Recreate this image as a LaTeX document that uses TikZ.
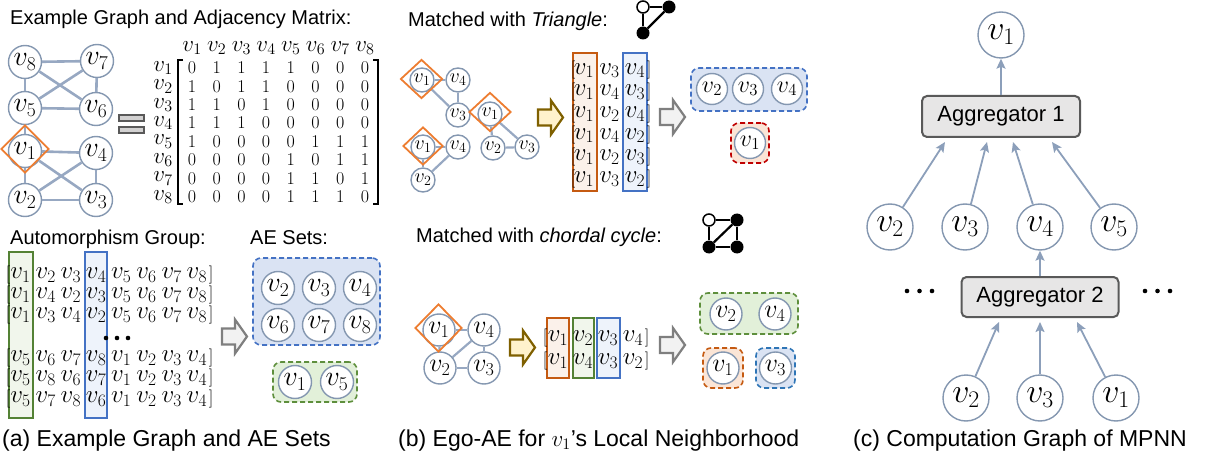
\documentclass[tikz,border=0pt]{standalone}
\usepackage{fix-cm}
\usepackage[no-math]{fontspec}
\setmainfont{Liberation Sans}
\usetikzlibrary{arrows.meta,shapes.geometric}

\definecolor{nodeline}{HTML}{8497B0}
\definecolor{edgeline}{HTML}{97A8C2}
\definecolor{flowc}{HTML}{8C9FBA}
\definecolor{diamondc}{HTML}{ED7D31}
\definecolor{colorange}{HTML}{C55A11}
\definecolor{fillorange}{HTML}{FBF1EA}
\definecolor{colblue}{HTML}{4472C4}
\definecolor{fillblue}{HTML}{EEF3FB}
\definecolor{colgreen}{HTML}{548235}
\definecolor{fillgreen}{HTML}{F1F6EC}
\definecolor{setbluefill}{HTML}{DAE3F3}
\definecolor{setgreenfill}{HTML}{E2F0D9}
\definecolor{setorangefill}{HTML}{FBE5D6}
\definecolor{dashgreen}{HTML}{5E8F3C}
\definecolor{dashred}{HTML}{C00000}
\definecolor{dashblue}{HTML}{2E75B6}
\definecolor{arrowyellow}{HTML}{FFF2CC}
\definecolor{arrowolive}{HTML}{7F6000}
\definecolor{arrowgray}{HTML}{F2F2F2}
\definecolor{arrowgrayline}{HTML}{7F7F7F}
\definecolor{aggfill}{HTML}{E7E6E6}
\definecolor{aggline}{HTML}{595959}

% a row of vertex labels: prefix, y, first x, step, list macro of indices, style
\newcommand{\vrow}[6]{%
  \foreach \v [count=\c] in #5 {%
    \node[#6] (#1-\c) at ({#3+#4*(\c-1)},#2) {$v_{\v}$};}}

% a right-pointing block arrow centred at (#2,#3)
\newcommand{\blockarrow}[3]{%
  \draw[#1] ({#2-12.5},{#3-8}) -- ({#2+0.5},{#3-8}) -- ({#2+0.5},{#3-17})
    -- ({#2+12.5},#3) -- ({#2+0.5},{#3+17}) -- ({#2+0.5},{#3+8})
    -- ({#2-12.5},{#3+8}) -- cycle;}

\begin{document}
\begin{tikzpicture}[x=1pt,y=-1pt,
  vtx/.style={circle, draw=nodeline, line width=1.4pt, fill=white, inner sep=0pt},
  gbig/.style={vtx, minimum size=33pt, font=\fontsize{28}{28}\selectfont},
  gsmall/.style={vtx, minimum size=24pt, font=\fontsize{20}{20}\selectfont},
  gmid/.style={vtx, minimum size=32pt, font=\fontsize{26}{26}\selectfont},
  gset/.style={vtx, minimum size=31pt, font=\fontsize{24}{24}\selectfont},
  gmp/.style={vtx, minimum size=46pt, font=\fontsize{34}{34}\selectfont},
  gedge/.style={draw=edgeline, line width=2.6pt},
  sedge/.style={draw=edgeline, line width=2.2pt},
  hilite/.style={diamond, draw=diamondc, line width=1.8pt, inner sep=0pt},
  hdr/.style={inner sep=0pt, font=\fontsize{23}{23}\selectfont},
  digit/.style={inner sep=0pt, font=\fontsize{18}{18}\selectfont},
  entry/.style={inner sep=0pt, font=\fontsize{25}{25}\selectfont},
  brk/.style={inner sep=0pt, font=\fontsize{18}{18}\selectfont},
  bracket/.style={line width=1.2pt},
  title/.style={anchor=base west, inner sep=0pt, font=\fontsize{20}{24}\selectfont},
  caption/.style={anchor=base west, inner sep=0pt, font=\fontsize{23}{27}\selectfont},
  eqbar/.style={rectangle, draw=aggline, fill=aggfill!80!gray, line width=1.2pt, inner sep=0pt, minimum width=25pt, minimum height=6pt},
  orangecol/.style={draw=colorange, fill=fillorange, line width=1.8pt},
  bluecol/.style={draw=colblue, fill=fillblue, line width=1.8pt},
  greencol/.style={draw=colgreen, fill=fillgreen, line width=1.8pt},
  aeset/.style={rectangle, rounded corners=8pt, dash pattern=on 5pt off 3pt, line width=1.6pt, inner sep=0pt},
  aeblue/.style={aeset, draw=colblue, fill=setbluefill},
  aegreen/.style={aeset, draw=dashgreen, fill=setgreenfill},
  aered/.style={aeset, draw=dashred, fill=setorangefill},
  aeorange/.style={aeset, draw=colorange, fill=setorangefill},
  aesmallblue/.style={aeset, draw=dashblue, fill=setbluefill},
  yellowarrow/.style={draw=arrowolive, fill=arrowyellow, line width=2.2pt, line join=miter},
  grayarrow/.style={draw=arrowgrayline, fill=arrowgray, line width=2.2pt, line join=miter},
  openv/.style={circle, draw=black, fill=white, line width=1.5pt, minimum size=12pt, inner sep=0pt},
  fullv/.style={circle, fill=black, minimum size=13pt, inner sep=0pt},
  iconedge/.style={line width=2.2pt},
  dot/.style={circle, fill=black, minimum size=4.6pt, inner sep=0pt},
  agg/.style={rectangle, rounded corners=5pt, draw=aggline, fill=aggfill, line width=2pt, font=\fontsize{22}{26}\selectfont},
  flow/.style={draw=flowc, line width=1.8pt, -{Stealth[length=10pt,width=9pt,inset=2pt]}}
]
\useasboundingbox (0,0) rectangle (1226,457);

% ================= (a) example graph and adjacency matrix =================
\node[title] (ttlgraph) at (10,25) {Example Graph and Adjacency Matrix:};
\node[gbig] (g8) at (25,62) {$v_8$};
\node[gbig] (g7) at (97,61) {$v_7$};
\node[gbig] (g5) at (25,108) {$v_5$};
\node[gbig] (g6) at (96,109) {$v_6$};
\node[gbig] (g1) at (25,151) {$v_1$};
\node[gbig] (g4) at (96,153) {$v_4$};
\node[gbig] (g2) at (25,200) {$v_2$};
\node[gbig] (g3) at (96,200) {$v_3$};
\foreach \a/\b in {8/7,8/5,8/6,7/5,7/6,5/6,5/1,1/4,1/3,1/2,2/4,2/3,4/3}
  \draw[gedge] (g\a) -- (g\b);
\node[hilite, minimum width=48pt, minimum height=48pt] (dgA) at (25,149) {};

\node[eqbar] (eqtop) at (131.5,118) {};
\node[eqbar] (eqbot) at (131.5,130) {};

\foreach \c in {1,...,8} {
  \node[hdr] (colh\c) at ({192+24.7*(\c-1)},48) {$v_{\c}$};
  \node[hdr] (rowh\c) at (163,{68+18.4*(\c-1)}) {$v_{\c}$};
}
\foreach \row [count=\r] in {{0,1,1,1,1,0,0,0},{1,0,1,1,0,0,0,0},{1,1,0,1,0,0,0,0},{1,1,1,0,0,0,0,0},
                            {1,0,0,0,0,1,1,1},{0,0,0,0,1,0,1,1},{0,0,0,0,1,1,0,1},{0,0,0,0,1,1,1,0}} {
  \foreach \val [count=\c] in \row {
    \node[digit] (adj\r-\c) at ({192+24.7*(\c-1)},{68+18.4*(\r-1)}) {$\val$};
  }
}
\draw[bracket] (183,60) -- (178,60) -- (178,204) -- (183,204);
\draw[bracket] (373,60) -- (378,60) -- (378,204) -- (373,204);

% ================= (a) automorphism group and AE sets =================
\node[title] (ttlauto) at (10,244) {Automorphism Group:};
\node[title] (ttlae) at (250,244) {AE Sets:};
\draw[greencol] (9,252) rectangle (33,418);
\draw[bluecol] (85,252) rectangle (107,418);
\foreach \lst/\yy [count=\r] in {{1,2,3,4,5,6,7,8}/275,{1,4,2,3,5,6,7,8}/295,{1,3,4,2,5,6,7,8}/315,
                                  {5,6,7,8,1,2,3,4}/358,{5,8,6,7,1,2,3,4}/378,{5,7,8,6,1,2,3,4}/399} {
  \node[brk] (pl\r) at (8,\yy) {$\mathbf{[}$};
  \vrow{perm\r}{\yy}{20.5}{25.2}{\lst}{entry}
  \node[brk] (pr\r) at (211,\yy) {$]$};
}
\node[dot] (pdot1) at (106,338) {};
\node[dot] (pdot2) at (117,338) {};
\node[dot] (pdot3) at (128,338) {};

\blockarrow{grayarrow}{234.5}{336.5}

\node[aeblue, minimum width=127pt, minimum height=87pt] (aeA) at (316.5,301.5) {};
\node[gbig] (aeA2) at (278,288) {$v_2$};
\node[gbig] (aeA3) at (319,288) {$v_3$};
\node[gbig] (aeA4) at (360,288) {$v_4$};
\node[gbig] (aeA6) at (278,325) {$v_6$};
\node[gbig] (aeA7) at (319,325) {$v_7$};
\node[gbig] (aeA8) at (360,325) {$v_8$};
\node[aegreen, minimum width=84pt, minimum height=40pt] (aeB) at (315,382) {};
\node[gbig] (aeB1) at (295,382) {$v_1$};
\node[gbig] (aeB5) at (337,382) {$v_5$};

% ================= (b) matched with triangle =================
\node[title] (ttltri) at (408,27) {Matched with \textit{Triangle}:};
\node[openv] (ti1) at (643,7) {};
\node[fullv] (ti2) at (669,7) {};
\node[fullv] (ti3) at (643,33) {};
\draw[iconedge] (ti1) -- (ti2);
\draw[iconedge] (ti1) -- (ti3);
\draw[iconedge] (ti2) -- (ti3);

% three triangles around v1
\node[gsmall] (ta1) at (422,80) {$v_1$};
\node[gsmall] (ta4) at (458,80) {$v_4$};
\node[gsmall] (ta3) at (458,115) {$v_3$};
\draw[sedge] (ta1) -- (ta4);
\draw[sedge] (ta1) -- (ta3);
\draw[sedge] (ta4) -- (ta3);
\node[hilite, minimum width=42pt, minimum height=39pt] (dgT1) at (421.5,79) {};

\node[gsmall] (tb1) at (490,114) {$v_1$};
\node[gsmall] (tb2) at (493,148) {$v_2$};
\node[gsmall] (tb3) at (527,147) {$v_3$};
\draw[sedge] (tb1) -- (tb2);
\draw[sedge] (tb1) -- (tb3);
\draw[sedge] (tb2) -- (tb3);
\node[hilite, minimum width=42pt, minimum height=39pt] (dgT2) at (490,112) {};

\node[gsmall] (tc1) at (423,147) {$v_1$};
\node[gsmall] (tc4) at (458,147) {$v_4$};
\node[gsmall] (tc2) at (423,180) {$v_2$};
\draw[sedge] (tc1) -- (tc4);
\draw[sedge] (tc1) -- (tc2);
\draw[sedge] (tc2) -- (tc4);
\node[hilite, minimum width=40pt, minimum height=38pt] (dgT3) at (423,146) {};

\blockarrow{yellowarrow}{550.5}{117.5}

\draw[orangecol] (573,53) rectangle (597,191);
\draw[bluecol] (623,53) rectangle (647,191);
\foreach \lst/\yy [count=\r] in {{1,3,4}/70.5,{1,4,3}/92,{1,2,4}/114,{1,4,2}/135.5,{1,2,3}/157,{1,3,2}/179} {
  \node[brk] (tl\r) at (573,\yy) {$\mathbf{[}$};
  \vrow{tri\r}{\yy}{584}{25.5}{\lst}{entry}
  \node[brk] (tr\r) at (649,\yy) {$]$};
}

\blockarrow{grayarrow}{672.5}{117}

\node[aeblue, minimum width=116pt, minimum height=43pt] (aeT) at (749,89.5) {};
\node[gset] (aeT2) at (712,89) {$v_2$};
\node[gset] (aeT3) at (748,89) {$v_3$};
\node[gset] (aeT4) at (787,89) {$v_4$};
\node[aered, minimum width=38pt, minimum height=40pt] (aeTr) at (750,143) {};
\node[gset] (aeT1) at (750,143) {$v_1$};

% ================= (b) matched with chordal cycle =================
\node[title] (ttlcc) at (416,242) {Matched with \textit{chordal cycle}:};
\node[openv] (ci1) at (709,220) {};
\node[fullv] (ci2) at (737,220) {};
\node[fullv] (ci3) at (709,247) {};
\node[fullv] (ci4) at (737,247) {};
\draw[iconedge] (ci1) -- (ci2);
\draw[iconedge] (ci1) -- (ci3);
\draw[iconedge] (ci2) -- (ci4);
\draw[iconedge] (ci3) -- (ci4);
\draw[iconedge] (ci3) -- (ci2);

\node[gmid] (cc1) at (439,330) {$v_1$};
\node[gmid] (cc4) at (484,330) {$v_4$};
\node[gmid] (cc2) at (440,368) {$v_2$};
\node[gmid] (cc3) at (484,368) {$v_3$};
\draw[sedge] (cc1) -- (cc4);
\draw[sedge] (cc1) -- (cc2);
\draw[sedge] (cc2) -- (cc4);
\draw[sedge] (cc2) -- (cc3);
\draw[sedge] (cc4) -- (cc3);
\node[hilite, minimum width=47pt, minimum height=48pt] (dgC) at (438.5,328) {};

\blockarrow{yellowarrow}{522.5}{347.5}

\draw[orangecol] (547,318) rectangle (569,378);
\draw[greencol] (573,318) rectangle (594,378);
\draw[bluecol] (597,318) rectangle (620,378);
\foreach \lst/\yy [count=\r] in {{1,2,3,4}/338,{1,4,3,2}/361} {
  \node[brk] (cl\r) at (545,\yy) {$\mathbf{[}$};
  \vrow{chd\r}{\yy}{558}{25}{\lst}{entry}
  \node[brk] (cr\r) at (647,\yy) {$]$};
}

\blockarrow{grayarrow}{672.5}{345}

\node[aegreen, minimum width=98pt, minimum height=41pt] (aeC) at (749,313.5) {};
\node[gmid] (aeC2) at (726,314) {$v_2$};
\node[gmid] (aeC4) at (775,314) {$v_4$};
\node[aeorange, minimum width=40pt, minimum height=40pt] (aeCo) at (723,368) {};
\node[gmid] (aeC1) at (723,368) {$v_1$};
\node[aesmallblue, minimum width=39pt, minimum height=40pt] (aeCb) at (775.5,368) {};
\node[gmid] (aeC3) at (775.5,368) {$v_3$};

% ================= (c) computation graph of MPNN =================
\node[gmp] (mtop) at (1001,35) {$v_1$};
\node[agg, minimum width=158pt, minimum height=41pt] (agg1) at (1001,116.5) {Aggregator 1};
\draw[flow] (agg1.north) -- (mtop);

\node[gmp] (m2) at (890,227) {$v_2$};
\node[gmp] (m3) at (965,227) {$v_3$};
\node[gmp] (m4) at (1040,227) {$v_4$};
\node[gmp] (m5) at (1114,227) {$v_5$};
\coordinate (in2) at (945,142);
\coordinate (in3) at (987,142);
\coordinate (in4) at (1013,142);
\coordinate (in5) at (1052,142);
\draw[flow] (m2) -- (in2);
\draw[flow] (m3) -- (in3);
\draw[flow] (m4) -- (in4);
\draw[flow] (m5) -- (in5);

\node[agg, minimum width=157pt, minimum height=40pt] (agg2) at (1040,297) {Aggregator 2};
\draw[flow] (agg2.north) -- (m4);
\node[dot] (ldot1) at (907,291) {};
\node[dot] (ldot2) at (919.5,291) {};
\node[dot] (ldot3) at (932,291) {};
\node[dot] (rdot1) at (1145,291) {};
\node[dot] (rdot2) at (1157.5,291) {};
\node[dot] (rdot3) at (1170,291) {};

\node[gmp] (b2) at (966,398) {$v_2$};
\node[gmp] (b3) at (1040,398) {$v_3$};
\node[gmp] (b1) at (1116,398) {$v_1$};
\coordinate (jn2) at (999,322);
\coordinate (jn3) at (1040,322);
\coordinate (jn1) at (1077,322);
\draw[flow] (b2) -- (jn2);
\draw[flow] (b3) -- (jn3);
\draw[flow] (b1) -- (jn1);

% ================= captions =================
\node[caption] (capa) at (2,446) {(a) Example Graph and AE Sets};
\node[caption] (capb) at (398,446) {(b) Ego-AE for $v_1$'s Local Neighborhood};
\node[caption] (capc) at (853,446) {(c) Computation Graph of MPNN};
\end{tikzpicture}
\end{document}
